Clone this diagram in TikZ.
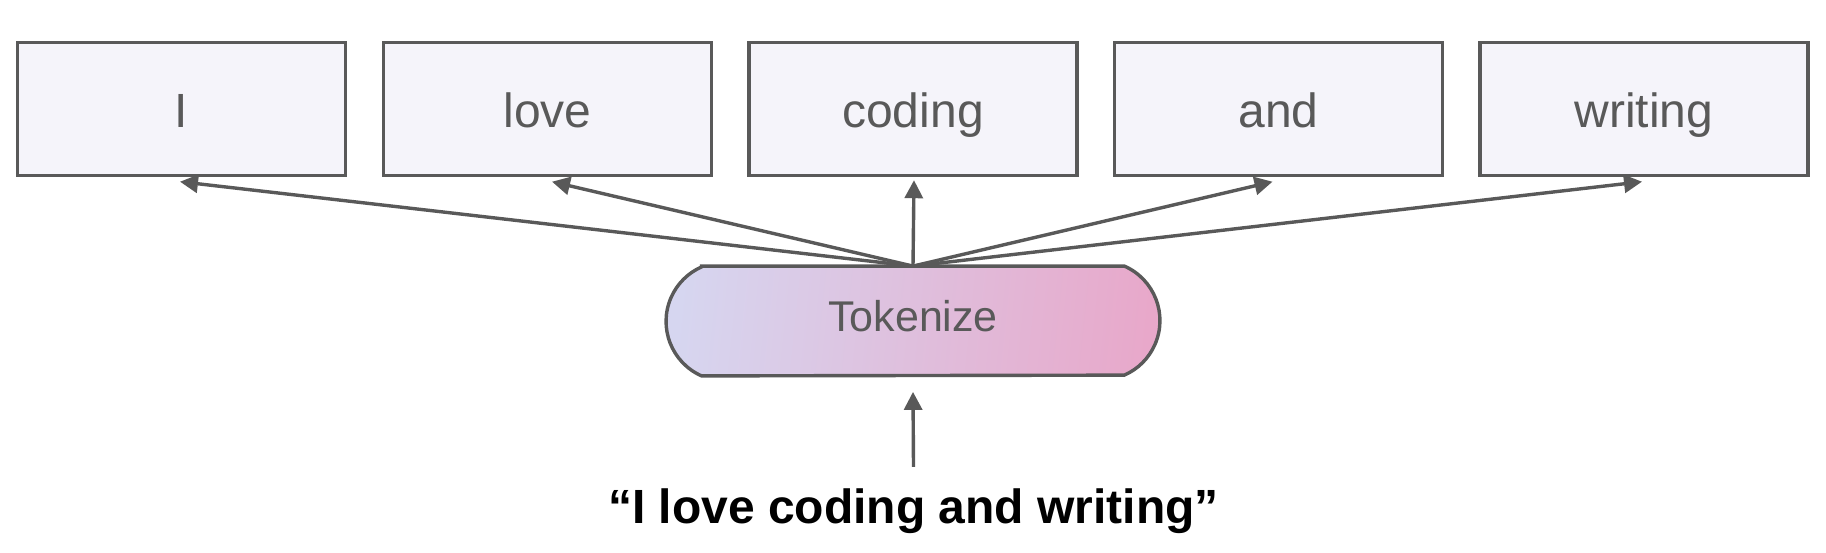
\documentclass[tikz,border=0pt]{standalone}
\usepackage{fontspec}
\setmainfont{Liberation Sans}
\usetikzlibrary{arrows.meta,backgrounds}
\definecolor{linegray}{RGB}{89,89,89}
\definecolor{boxfill}{RGB}{245,244,250}
\definecolor{lav}{RGB}{214,214,240}
\definecolor{pinkk}{RGB}{232,168,202}
\begin{document}
\begin{tikzpicture}[x=0.5pt,y=-0.5pt,
  tokbox/.style={draw=linegray, line width=1.7pt, fill=boxfill,
    minimum width=164pt, minimum height=66.5pt, inner sep=0pt,
    font=\fontsize{24}{29}\selectfont, text=linegray,
    text height=18pt, text depth=0pt},
  capsule/.style={minimum width=246.5pt, minimum height=54.5pt, inner sep=0pt,
    font=\fontsize{21.5}{26}\selectfont, text=linegray,
    text height=15.5pt, text depth=4.8pt},
  conn/.style={draw=linegray, line width=1.7pt,
    -{Triangle[length=9pt,width=9pt]}},
  sentence/.style={font=\bfseries\fontsize{24}{29}\selectfont, text=black,
    anchor=base, inner sep=0pt}
]
\useasboundingbox (0,0) rectangle (1826,552);

\node[tokbox] (b1) at (181.5,109) {I};
\node[tokbox] (b2) at (547.5,109) {love};
\node[tokbox] (b3) at (913,109) {coding};
\node[tokbox] (b4) at (1278.5,109) {and};
\node[tokbox] (b5) at (1644,109) {writing};

\node[capsule] (tok) at (913,321) {Tokenize};
\begin{scope}[on background layer]
\path[draw=linegray, line width=1.7pt, left color=lav, right color=pinkk,
      shading angle=84]
  ([xshift=17.75pt]tok.north west) -- ([xshift=-17.75pt]tok.north east)
  arc[start angle=66.2, end angle=-66.2, radius=29.79pt]
  -- ([xshift=17.75pt]tok.south west)
  arc[start angle=246.2, end angle=113.8, radius=29.79pt] -- cycle;
\end{scope}

\draw[conn] (tok.north) -- ([xshift=-0.75pt,yshift=-2.25pt]b1.south);
\draw[conn] (tok.north) -- ([xshift=2.25pt,yshift=-2.25pt]b2.south);
\draw[conn] (tok.north) -- ([xshift=0.5pt,yshift=-1.5pt]b3.south);
\draw[conn] (tok.north) -- ([xshift=-3pt,yshift=-2.25pt]b4.south);
\draw[conn] (tok.north) -- ([xshift=-1pt,yshift=-2.25pt]b5.south);

\node[sentence] (sent) at (913.5,523) {“I love coding and writing”};
\draw[conn] ([yshift=10.5pt]sent.north) -- ([yshift=-8pt]tok.south);
\end{tikzpicture}
\end{document}
